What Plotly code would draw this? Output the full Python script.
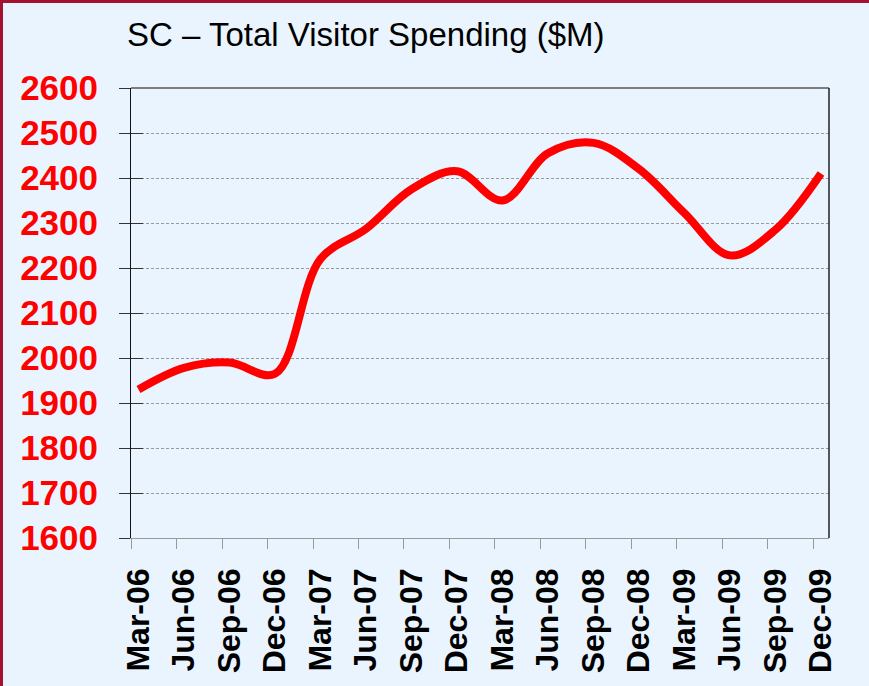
import plotly.graph_objects as go

quarters = ["Mar-06", "Jun-06", "Sep-06", "Dec-06", "Mar-07", "Jun-07", "Sep-07", "Dec-07",
            "Mar-08", "Jun-08", "Sep-08", "Dec-08", "Mar-09", "Jun-09", "Sep-09", "Dec-09"]
spending = [1930, 1978, 1990, 1965, 2220, 2287, 2375, 2415,
            2350, 2455, 2478, 2420, 2322, 2228, 2285, 2410]
y_ticks = [1600, 1700, 1800, 1900, 2000, 2100, 2200, 2300, 2400, 2500, 2600]

idx = list(range(len(quarters)))
tick_offset = -0.165
x_range = [-0.165, 15.176]
y_range = [1600, 2600]

BG = "#EAF4FE"
FONT = "Arial, Liberation Sans, sans-serif"

fig = go.Figure()
fig.add_trace(go.Scatter(
    x=idx, y=spending, mode="lines",
    line=dict(color="#FF0000", width=8, shape="spline", smoothing=1.0),
    hoverinfo="skip", showlegend=False,
))
# invisible trace to activate label axis
fig.add_trace(go.Scatter(x=idx, y=spending, xaxis="x2", yaxis="y2", mode="lines",
                         line=dict(color="rgba(0,0,0,0)"), showlegend=False, hoverinfo="skip"))

W, H = 869, 686
ml, mr, mt, mb = 131, 40, 88, 148

fig.update_layout(
    width=W, height=H,
    margin=dict(l=ml, r=mr, t=mt, b=mb, pad=0),
    paper_bgcolor=BG, plot_bgcolor=BG,
    title=dict(text="SC \u2013 Total Visitor Spending ($M)",
               font=dict(family=FONT, size=33, color="#000000"),
               x=127 / W, xanchor="left", xref="container",
               y=1 - 34 / H, yanchor="middle", yref="container"),
    xaxis=dict(
        range=x_range,
        tickmode="array", tickvals=[i + tick_offset for i in idx],
        showticklabels=False,
        ticks="outside", ticklen=10, tickcolor="#999999", tickwidth=1,
        showline=True, linecolor="#999999", linewidth=1,
        showgrid=False, zeroline=False,
    ),
    xaxis2=dict(
        range=x_range, overlaying="x", side="bottom", anchor="y",
        tickmode="array", tickvals=idx, ticktext=quarters,
        tickangle=-90, ticks="", showline=False, showgrid=False, zeroline=False,
        tickfont=dict(family=FONT, size=32, color="#000000", weight="bold"),
        ticklabelstandoff=23,
    ),
    yaxis=dict(
        range=y_range, tickmode="array", tickvals=y_ticks,
        ticks="outside", ticklen=11, tickcolor="#333333", tickwidth=1,
        showline=True, linecolor="#111111", linewidth=1,
        showgrid=True, gridcolor="#999999", griddash="3px,2px", gridwidth=1,
        zeroline=False,
        tickfont=dict(family=FONT, size=35, color="#FF0000", weight="bold"),
        ticklabelstandoff=14,
    ),
    yaxis2=dict(
        range=y_range, overlaying="y", side="left", anchor="x",
        tickmode="array", tickvals=y_ticks, showticklabels=False,
        ticks="inside", ticklen=12, tickcolor="#333333", tickwidth=1,
        showline=False, showgrid=False, zeroline=False,
    ),
)

pw = W - ml - mr
ph = H - mt - mb

def px_x(p):
    return (p - ml) / pw

def px_y(p):
    return (H - mb - p) / ph

# plot frame top and right
fig.add_shape(type="line", xref="paper", yref="paper", x0=0, x1=1, y0=1, y1=1,
              line=dict(color="#555555", width=1.5))
fig.add_shape(type="line", xref="paper", yref="paper", x0=1, x1=1, y0=0, y1=1,
              line=dict(color="#222222", width=1.5))
# figure border (top and left), dark red
fig.add_shape(type="line", xref="paper", yref="paper",
              x0=px_x(0), x1=px_x(W), y0=px_y(1.5), y1=px_y(1.5),
              line=dict(color="#A3122E", width=3))
fig.add_shape(type="line", xref="paper", yref="paper",
              x0=px_x(1.5), x1=px_x(1.5), y0=px_y(0), y1=px_y(H),
              line=dict(color="#A3122E", width=3))

fig.write_html("out.html", config={"displayModeBar": False},
               post_script="document.body.style.margin='0';document.body.style.overflow='hidden';")
